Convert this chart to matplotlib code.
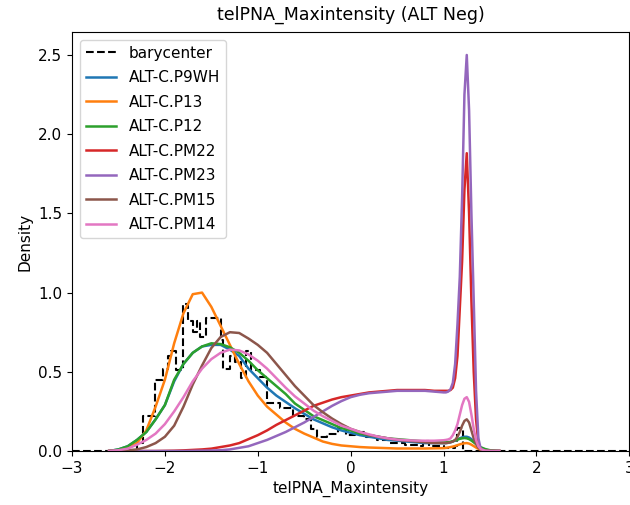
import numpy as np
import matplotlib
matplotlib.use("Agg")
import matplotlib.pyplot as plt

# sample positions of the density curves (coarse part + fine part round the peak)
x_main = [round(v, 2) for v in np.arange(-2.6, 1.01, 0.1)]
x_peak = [1.025, 1.05, 1.075, 1.1, 1.125, 1.15, 1.175, 1.2, 1.225, 1.25,
          1.275, 1.3, 1.325, 1.35, 1.375, 1.4, 1.45, 1.5, 1.6]
x_all = x_main + x_peak

labels = ["ALT-C.P9WH", "ALT-C.P13", "ALT-C.P12", "ALT-C.PM22",
          "ALT-C.PM23", "ALT-C.PM15", "ALT-C.PM14"]

# density values, -2.6 .. 1.0 then the peak grid
p9wh = [0.0, 0.01, 0.03, 0.07, 0.12, 0.20, 0.29, 0.44, 0.55, 0.62, 0.66, 0.67,
        0.67, 0.64, 0.60, 0.52, 0.46, 0.40, 0.35, 0.31, 0.27, 0.235, 0.20, 0.175,
        0.15, 0.13, 0.115, 0.10, 0.09, 0.08, 0.07, 0.065, 0.06, 0.055, 0.05, 0.05, 0.05] + \
       [0.05, 0.052, 0.055, 0.06, 0.066, 0.073, 0.08, 0.086, 0.09, 0.09,
        0.085, 0.075, 0.06, 0.045, 0.03, 0.02, 0.008, 0.003, 0.0]
p13 = [0.0, 0.005, 0.02, 0.05, 0.13, 0.28, 0.45, 0.68, 0.87, 0.99, 1.0, 0.91,
       0.79, 0.67, 0.55, 0.44, 0.35, 0.28, 0.23, 0.18, 0.14, 0.11, 0.085, 0.06,
       0.045, 0.035, 0.03, 0.025, 0.022, 0.02, 0.018, 0.016, 0.016, 0.016, 0.016, 0.017, 0.018] + \
      [0.02, 0.022, 0.025, 0.028, 0.032, 0.037, 0.042, 0.046, 0.049, 0.05,
       0.047, 0.04, 0.031, 0.022, 0.014, 0.008, 0.002, 0.0, 0.0]
p12 = [0.0, 0.01, 0.03, 0.07, 0.12, 0.20, 0.29, 0.45, 0.55, 0.62, 0.66, 0.68,
       0.675, 0.655, 0.62, 0.57, 0.51, 0.46, 0.41, 0.36, 0.30, 0.26, 0.22, 0.195,
       0.17, 0.145, 0.13, 0.11, 0.10, 0.09, 0.08, 0.075, 0.07, 0.065, 0.06, 0.055, 0.055] + \
      [0.055, 0.056, 0.058, 0.062, 0.067, 0.072, 0.077, 0.08, 0.082, 0.08,
       0.075, 0.066, 0.055, 0.044, 0.033, 0.024, 0.012, 0.005, 0.0]
pm22 = [0.0, 0.0, 0.0, 0.0, 0.0, 0.0, 0.001, 0.002, 0.004, 0.007, 0.01, 0.015,
        0.025, 0.035, 0.05, 0.075, 0.10, 0.13, 0.165, 0.195, 0.225, 0.255, 0.285, 0.305,
        0.325, 0.34, 0.35, 0.36, 0.37, 0.375, 0.38, 0.385, 0.385, 0.385, 0.385, 0.38, 0.38] + \
       [0.38, 0.38, 0.385, 0.40, 0.46, 0.6, 0.9, 1.2, 1.65, 1.88,
        1.5, 0.95, 0.5, 0.2, 0.05, 0.01, 0.0, 0.0, 0.0]
pm23 = [0.0, 0.0, 0.0, 0.0, 0.0, 0.0, 0.0, 0.0, 0.0, 0.001, 0.002, 0.003,
        0.005, 0.01, 0.02, 0.03, 0.05, 0.07, 0.095, 0.12, 0.15, 0.18, 0.215, 0.25,
        0.285, 0.315, 0.34, 0.355, 0.365, 0.37, 0.375, 0.38, 0.38, 0.38, 0.38, 0.375, 0.37] + \
       [0.37, 0.375, 0.39, 0.43, 0.55, 0.8, 1.1, 1.6, 2.25, 2.5,
        2.15, 1.5, 0.95, 0.38, 0.08, 0.015, 0.0, 0.0, 0.0]
pm15 = [0.0, 0.0, 0.005, 0.01, 0.025, 0.05, 0.09, 0.16, 0.28, 0.42, 0.54, 0.65,
        0.72, 0.75, 0.745, 0.71, 0.67, 0.62, 0.55, 0.48, 0.41, 0.35, 0.29, 0.245,
        0.205, 0.17, 0.14, 0.12, 0.10, 0.09, 0.08, 0.07, 0.065, 0.06, 0.055, 0.05, 0.05] + \
       [0.05, 0.052, 0.055, 0.06, 0.07, 0.09, 0.12, 0.16, 0.19, 0.2,
        0.18, 0.13, 0.08, 0.045, 0.02, 0.01, 0.002, 0.0, 0.0]
pm14 = [0.0, 0.005, 0.015, 0.04, 0.07, 0.11, 0.17, 0.25, 0.34, 0.44, 0.52, 0.58,
        0.62, 0.64, 0.635, 0.61, 0.57, 0.52, 0.46, 0.40, 0.345, 0.30, 0.255, 0.22,
        0.19, 0.16, 0.14, 0.12, 0.105, 0.09, 0.08, 0.072, 0.068, 0.066, 0.065, 0.065, 0.068] + \
       [0.07, 0.073, 0.08, 0.1, 0.13, 0.17, 0.23, 0.29, 0.33, 0.34,
        0.31, 0.23, 0.14, 0.07, 0.03, 0.012, 0.002, 0.0, 0.0]
series = [p9wh, p13, p12, pm22, pm23, pm15, pm14]

# barycenter histogram: left edge of each step and its height
bary_x = [-3.0, -2.30, -2.24, -2.11, -2.02, -1.97, -1.93, -1.88, -1.81, -1.75,
          -1.70, -1.65, -1.62, -1.56, -1.40, -1.37, -1.30, -1.24, -1.18, -1.13,
          -1.07, -0.98, -0.90, -0.76, -0.62, -0.50, -0.43, -0.36, -0.25, -0.14,
          -0.05, 0.05, 0.16, 0.28, 0.42, 0.58, 0.72, 0.78, 0.84, 1.00,
          1.12, 1.15, 1.21, 3.0]
bary_y = [0.0, 0.05, 0.22, 0.45, 0.52, 0.60, 0.63, 0.51, 0.93, 0.82,
          0.75, 0.82, 0.72, 0.84, 0.70, 0.52, 0.60, 0.56, 0.46, 0.63,
          0.51, 0.47, 0.30, 0.27, 0.22, 0.20, 0.14, 0.09, 0.11, 0.145,
          0.10, 0.12, 0.09, 0.07, 0.05, 0.04, 0.03, 0.065, 0.03, 0.02,
          0.03, 0.145, 0.0, 0.0]

fig = plt.figure(figsize=(6.3, 5.05), dpi=100)
ax = fig.add_axes([0.1143, 0.1069, 0.8846, 0.8297])

ax.plot(bary_x, bary_y, drawstyle="steps-post", color="black", ls="--",
        lw=1.5, label="barycenter")
for i, (lab, vals) in enumerate(zip(labels, series)):
    ax.plot(x_all, vals, color="C%d" % i, lw=1.8, label=lab)

ax.set_xlim(-3, 3)
ax.set_ylim(0, 2.645)
ax.set_xlabel("telPNA_Maxintensity", fontsize=11)
ax.set_ylabel("Density", fontsize=11)
ax.set_title("telPNA_Maxintensity (ALT Neg)", fontsize=12.5, pad=9)
ax.tick_params(labelsize=11)
ax.legend(loc="upper left", fontsize=11, labelspacing=0.62)

fig.savefig("out.png", dpi=100)
